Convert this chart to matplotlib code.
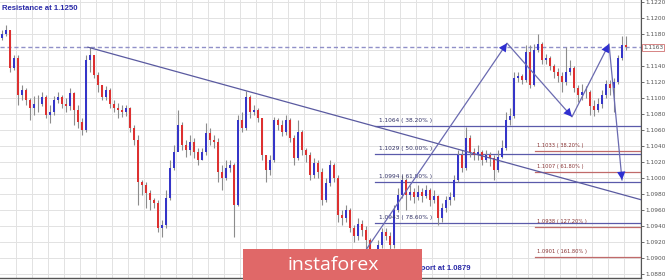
import numpy as np
import matplotlib
matplotlib.use('Agg')
import matplotlib.pyplot as plt
from matplotlib.patches import Rectangle

# candle data (one candle per index)
first_open = 1.1175
closes = [1.1179, 1.1184, 1.1137, 1.1149, 1.1103, 1.1109, 1.1097, 1.1087, 1.1092, 1.1092,
          1.1101, 1.1078, 1.1082, 1.1097, 1.1101, 1.1092, 1.1089, 1.1106, 1.1084, 1.1069,
          1.1059, 1.1147, 1.1153, 1.1128, 1.1116, 1.1101, 1.1109, 1.1092, 1.1087, 1.1084,
          1.1082, 1.1087, 1.1062, 1.1047, 1.0994, 1.0991, 1.0981, 1.0972, 1.0968, 1.0937,
          1.0941, 1.0974, 1.1012, 1.1032, 1.1066, 1.1041, 1.1034, 1.1044, 1.1032, 1.1022,
          1.1032, 1.1056, 1.1047, 1.1044, 1.1007, 1.0999, 1.1012, 1.1016, 1.0966, 1.1072,
          1.1062, 1.1101, 1.1082, 1.1084, 1.1074, 1.1028, 1.1009, 1.1022, 1.1072, 1.1066,
          1.1057, 1.1072, 1.1049, 1.1024, 1.1057, 1.1034, 1.1028, 1.1003, 1.1018, 1.1007,
          1.0972, 1.0993, 1.1016, 1.0999, 1.0953, 1.0949, 1.0959, 1.0937, 1.0927, 1.0942,
          1.0934, 1.0922, 1.0903, 1.0891, 1.0916, 1.0932, 1.0927, 1.0916, 1.0959, 1.0978,
          1.0997, 1.0978, 1.0982, 1.0976, 1.0982, 1.0977, 1.0984, 1.0972, 1.0977, 1.0949,
          1.0962, 1.0972, 1.0976, 1.0997, 1.1028, 1.1012, 1.1049, 1.1032, 1.1028, 1.1032,
          1.1022, 1.1028, 1.1024, 1.1009, 1.1026, 1.1037, 1.1072, 1.1077, 1.1124, 1.1127,
          1.1122, 1.1157, 1.1116, 1.1159, 1.1167, 1.1147, 1.1149, 1.1139, 1.1132, 1.1127,
          1.1119, 1.1132, 1.1137, 1.1112, 1.1103, 1.1107, 1.1107, 1.1089, 1.1084, 1.1092,
          1.1103, 1.1117, 1.1112, 1.1119, 1.1149, 1.1166, 1.1163]
highs = [1.1184, 1.1191, 1.1184, 1.1153, 1.1153, 1.1116, 1.1112, 1.1099, 1.1102, 1.1103,
         1.1107, 1.1103, 1.1091, 1.1102, 1.1107, 1.1103, 1.1099, 1.1112, 1.1107, 1.1091,
         1.1074, 1.1153, 1.1163, 1.1153, 1.1132, 1.1116, 1.1114, 1.1112, 1.1097, 1.1093,
         1.1091, 1.1091, 1.1088, 1.1066, 1.1053, 1.0997, 1.0994, 1.0984, 1.0974, 1.0972,
         1.0947, 1.0984, 1.1022, 1.1041, 1.1084, 1.1069, 1.1047, 1.1053, 1.1049, 1.1037,
         1.1037, 1.1068, 1.1062, 1.1053, 1.1049, 1.1016, 1.1022, 1.1022, 1.1018, 1.1078,
         1.1082, 1.1108, 1.1103, 1.1091, 1.1087, 1.1074, 1.1028, 1.1028, 1.1076, 1.1074,
         1.1072, 1.1078, 1.1074, 1.1053, 1.1072, 1.1059, 1.1037, 1.1032, 1.1024, 1.1022,
         1.1012, 1.0999, 1.1022, 1.1018, 1.1003, 1.0959, 1.0966, 1.0962, 1.0941, 1.0949,
         1.0947, 1.0939, 1.0924, 1.0909, 1.0922, 1.0937, 1.0937, 1.0932, 1.0966, 1.0987,
         1.1003, 1.0999, 1.0991, 1.0987, 1.0991, 1.0987, 1.0991, 1.0987, 1.0984, 1.0978,
         1.0968, 1.0977, 1.0982, 1.1003, 1.1034, 1.1034, 1.1063, 1.1053, 1.1037, 1.1041,
         1.1034, 1.1034, 1.1032, 1.1028, 1.1034, 1.1047, 1.1082, 1.1087, 1.1132, 1.1132,
         1.1129, 1.1166, 1.1166, 1.1167, 1.1179, 1.1169, 1.1154, 1.1152, 1.1142, 1.1137,
         1.1132, 1.1163, 1.1147, 1.1139, 1.1116, 1.1117, 1.1114, 1.1109, 1.1097, 1.1099,
         1.1109, 1.1122, 1.1122, 1.1124, 1.1153, 1.1177, 1.1177]
lows = [1.1172, 1.1177, 1.1132, 1.1134, 1.1091, 1.1097, 1.1091, 1.1072, 1.1078, 1.1082,
        1.1089, 1.1074, 1.1068, 1.1078, 1.1093, 1.1087, 1.1082, 1.1084, 1.1066, 1.1062,
        1.1053, 1.1057, 1.1132, 1.1124, 1.1107, 1.1097, 1.1097, 1.1087, 1.1082, 1.1074,
        1.1076, 1.1077, 1.1057, 1.1041, 1.0966, 1.0978, 1.0962, 1.0959, 1.0962, 1.0932,
        1.0926, 1.0937, 1.0972, 1.1009, 1.1034, 1.1034, 1.1026, 1.1028, 1.1024, 1.1016,
        1.1022, 1.1028, 1.1041, 1.1037, 1.0994, 1.0984, 1.0997, 1.1007, 1.0926, 1.0964,
        1.1057, 1.1059, 1.1074, 1.1078, 1.1069, 1.1022, 1.0994, 1.1003, 1.1019, 1.1059,
        1.1052, 1.1053, 1.1044, 1.1016, 1.1022, 1.1028, 1.1019, 1.0997, 1.0999, 1.0999,
        1.0966, 1.0969, 1.0989, 1.0994, 1.0944, 1.0941, 1.0944, 1.0932, 1.0919, 1.0922,
        1.0927, 1.0909, 1.0894, 1.0879, 1.0887, 1.0912, 1.0922, 1.0909, 1.0912, 1.0957,
        1.0974, 1.0959, 1.0972, 1.0968, 1.0972, 1.0969, 1.0974, 1.0964, 1.0968, 1.0941,
        1.0944, 1.0957, 1.0966, 1.0972, 1.0994, 1.1007, 1.1009, 1.1026, 1.1022, 1.1022,
        1.1016, 1.1019, 1.1014, 1.0997, 1.1007, 1.1024, 1.1034, 1.1066, 1.1074, 1.1119,
        1.1117, 1.1119, 1.1112, 1.1114, 1.1157, 1.1142, 1.1142, 1.1134, 1.1124, 1.1119,
        1.1107, 1.1116, 1.1128, 1.1107, 1.1094, 1.1097, 1.1099, 1.1078, 1.1077, 1.1082,
        1.1087, 1.1099, 1.1103, 1.1082, 1.1117, 1.1147, 1.1159]

# annotation levels
last_price = 1.1163
blue_levels = [1.1064, 1.1029, 1.0994, 1.0943]
blue_labels = ['1.1064 ( 38.20% )', '1.1029 ( 50.00% )', '1.0994 ( 61.80% )', '1.0943 ( 78.60% )']
red_levels = [1.1033, 1.1007, 1.0938, 1.0901]
red_labels = ['1.1033 ( 38.20% )', '1.1007 ( 61.80% )', '1.0938 ( 127.20% )', '1.0901 ( 161.80% )']
trend_x = [21.5, 160.0]
trend_y = [1.1163, 1.0972]
wave_x = [89.0, 126.25, 142.5, 151.75, 155.0]
wave_y = [1.0895, 1.1168, 1.1076, 1.1167, 1.0997]
yticks = np.arange(1.0880, 1.12201, 0.002)

n = len(closes)
idx = np.arange(n)
opens = np.array([first_open] + closes[:-1])
closes = np.array(closes)
up = closes >= opens

fig = plt.figure(figsize=(6.65, 2.8), dpi=100)
ax = fig.add_axes([0, 2 / 280, 641 / 665, 278 / 280])
ax.set_xlim(-0.5, 159.75)
ax.set_ylim(1.1222 - 278 / 8000, 1.1222)

# grid
for y in yticks:
    ax.axhline(y, color='#e2e2e2', lw=0.7, zorder=0)
for x in np.arange(3.5, 160, 4):
    ax.axvline(x, color='#e2e2e2', lw=0.7, zorder=0)

# candles
ax.vlines(idx, lows, highs, color='#8c8c8c', lw=0.8, zorder=2)
ax.bar(idx[up], closes[up] - opens[up], bottom=opens[up], width=0.7,
       color='#3535c8', zorder=3)
ax.bar(idx[~up], closes[~up] - opens[~up], bottom=opens[~up], width=0.7,
       color='#dd3030', zorder=3)

# resistance dashed line
ax.axhline(last_price, color='#9090c8', lw=1.0, ls=(0, (3, 2)), zorder=1)

# fib levels
for lev, lab in zip(blue_levels, blue_labels):
    ax.plot([93.3, 159.75], [lev, lev], color='#5a5aaa', lw=0.9, zorder=1)
    ax.text(94.3, lev + 0.0004, lab, fontsize=4.2, color='#333366', va='bottom')
for lev, lab in zip(red_levels, red_labels):
    ax.plot([133.3, 159.75], [lev, lev], color='#c06a6a', lw=0.9, zorder=1)
    ax.text(133.8, lev + 0.0004, lab, fontsize=3.7, color='#883333', va='bottom')

# trend line and wave projection
ax.plot(trend_x, trend_y, color='#5a5aa0', lw=0.9, zorder=4)
ax.plot(wave_x, wave_y, color='#6a6ab0', lw=0.9, zorder=4)
for i in range(1, len(wave_x)):
    ax.annotate('', xy=(wave_x[i], wave_y[i]), xytext=(wave_x[i - 1], wave_y[i - 1]),
                arrowprops=dict(arrowstyle='-|>,head_length=0.6,head_width=0.3',
                                color='#2f2fd0', lw=0, shrinkA=0, shrinkB=0),
                zorder=5)

# axis styling
for s in ['top', 'left']:
    ax.spines[s].set_visible(False)
ax.spines['right'].set_color('#555555')
ax.spines['bottom'].set_color('#555555')
ax.spines['right'].set_linewidth(0.8)
ax.spines['bottom'].set_linewidth(1.0)
ax.set_xticks([])
ax.yaxis.tick_right()
ax.set_yticks(yticks)
# the 1.1160 label sits under the last-price box
ax.set_yticklabels(['' if abs(v - 1.1160) < 1e-6 else '%.4f' % v for v in yticks])
ax.tick_params(axis='y', labelsize=4.2, labelcolor='#555555', color='#555555',
               length=2.5, width=0.6, pad=1)

# last price box
y0, y1 = ax.get_ylim()
ax.text(1.003, (last_price - y0) / (y1 - y0),
        '%.4f' % last_price, transform=ax.transAxes, fontsize=4.2, color='#555555',
        va='center', ha='left',
        bbox=dict(boxstyle='square,pad=0.15', fc='white', ec='#d07070', lw=0.6))

# captions
fig.text(0.003, 0.982, 'Resistance at 1.1250', fontsize=5.6, fontweight='bold',
         color='#2a2aa8', family='Liberation Sans', va='top')
fig.text(470 / 665, 1 - 268 / 280, 'Support at 1.0879', fontsize=5.6, fontweight='bold',
         color='#2a2aa8', family='Liberation Sans', va='center', ha='right')

# instaforex banner
fig.patches.append(Rectangle((243 / 665, 0), (422 - 243) / 665, 31 / 280,
                             transform=fig.transFigure, fc='#e06868', ec='none', zorder=10))
fig.text(333 / 665, 15 / 280, 'instaforex', fontsize=14, color='white',
         family='Open Sans', ha='center', va='center', zorder=11)

fig.savefig('out.png', dpi=100)
